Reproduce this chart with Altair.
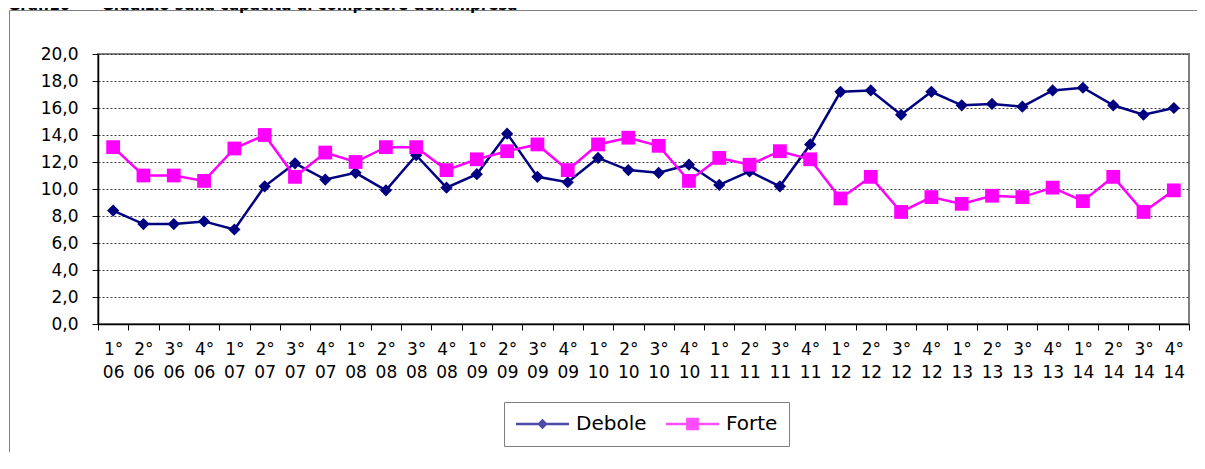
import altair as alt
import pandas as pd

categories = [
    "1° 06", "2° 06", "3° 06", "4° 06",
    "1° 07", "2° 07", "3° 07", "4° 07",
    "1° 08", "2° 08", "3° 08", "4° 08",
    "1° 09", "2° 09", "3° 09", "4° 09",
    "1° 10", "2° 10", "3° 10", "4° 10",
    "1° 11", "2° 11", "3° 11", "4° 11",
    "1° 12", "2° 12", "3° 12", "4° 12",
    "1° 13", "2° 13", "3° 13", "4° 13",
    "1° 14", "2° 14", "3° 14", "4° 14",
]
debole = [8.4, 7.4, 7.4, 7.6, 7.0, 10.2, 11.9, 10.7, 11.2, 9.9, 12.5, 10.1,
          11.1, 14.1, 10.9, 10.5, 12.3, 11.4, 11.2, 11.8, 10.3, 11.3, 10.2, 13.3,
          17.2, 17.3, 15.5, 17.2, 16.2, 16.3, 16.1, 17.3, 17.5, 16.2, 15.5, 16.0]
forte = [13.1, 11.0, 11.0, 10.6, 13.0, 14.0, 10.9, 12.7, 12.0, 13.1, 13.1, 11.4,
         12.2, 12.8, 13.3, 11.4, 13.3, 13.8, 13.2, 10.6, 12.3, 11.8, 12.8, 12.2,
         9.3, 10.9, 8.3, 9.4, 8.9, 9.5, 9.4, 10.1, 9.1, 10.9, 8.3, 9.9]
series = ["Debole", "Forte"]
series_colors = ["#000080", "#FF00FF"]
y_ticks = [0, 2, 4, 6, 8, 10, 12, 14, 16, 18, 20]
title_text = "Graf.10" + "\u00a0" * 6 + "Giudizio sulla capacità di competere dell'impresa"

# legend symbols: a thin bar (the line) with the marker in the middle, all filled
legend_paths = [
    "M-1,-0.045L1,-0.045L1,0.045L-1,0.045Z M0,-0.2L0.2,0L0,0.2L-0.2,0Z",
    "M-1,-0.045L1,-0.045L1,0.045L-1,0.045Z M-0.24,-0.24L0.24,-0.24L0.24,0.24L-0.24,0.24Z",
]

df = pd.DataFrame({
    "periodo": categories * 2,
    "serie": [series[0]] * len(debole) + [series[1]] * len(forte),
    "valore": debole + forte,
})

FONT = "DejaVu Sans"

x_enc = alt.X(
    "periodo:N", sort=categories,
    scale=alt.Scale(type="band", domain=categories, paddingInner=0, paddingOuter=0),
    axis=alt.Axis(title=None, labelAngle=0, labelExpr="split(datum.label, ' ')",
                  tickBand="extent", labelFont=FONT, labelFontSize=17,
                  labelColor="black", labelLineHeight=23, labelPadding=11,
                  labelBaseline="top", tickColor="black", tickSize=6,
                  domainColor="black", domainWidth=1.5, grid=False,
                  labelOverlap=False, labelFlush=False),
)
y_enc = alt.Y(
    "valore:Q",
    scale=alt.Scale(domain=[0, 20], nice=False),
    axis=alt.Axis(title=None, values=y_ticks,
                  labelExpr="replace(format(datum.value, '.1f'), '.', ',')",
                  grid=True, gridColor="#404040", gridDash=[2, 2], gridWidth=1,
                  tickColor="black", tickSize=6, domainColor="black", domainWidth=1.5,
                  labelFont=FONT, labelFontSize=17, labelColor="black", labelPadding=14),
)

one = pd.DataFrame({"t": [title_text]})

# outer frame of the figure: only its top and left sides fall inside the picture
frame_top = alt.Chart(one).mark_rule(color="#808080", strokeWidth=1).encode(
    x=alt.value(-88.5), x2=alt.value(1099), y=alt.value(-43.5)
)
frame_left = alt.Chart(one).mark_rule(color="#808080", strokeWidth=1).encode(
    x=alt.value(-88.5), y=alt.value(-43.5), y2=alt.value(398)
)
title = alt.Chart(one).mark_text(
    align="left", baseline="alphabetic", font=FONT, fontSize=15, fontWeight="bold", color="black"
).encode(text="t:N", x=alt.value(-90), y=alt.value(-44))

def series_layers(name, color, shape, size):
    base = alt.Chart(df).transform_filter(alt.datum.serie == name)
    line = base.mark_line(color=color, strokeWidth=2.5).encode(x=x_enc, y=y_enc)
    pts = base.mark_point(filled=True, shape=shape, size=size, color=color,
                          opacity=1, strokeWidth=0).encode(x=x_enc, y=y_enc)
    return [line, pts]

leg = dict(title=None, orient="none", legendX=406, legendY=348, direction="horizontal",
           labelFont=FONT, labelFontSize=20, labelColor="black", labelOffset=6,
           columnPadding=18, padding=11, strokeColor="#808080", fillColor="white",
           symbolSize=2809, clipHeight=22)

legend_layer = alt.Chart(df).mark_point(filled=True, size=0).encode(
    x=x_enc, y=y_enc,
    color=alt.Color("serie:N", scale=alt.Scale(domain=series, range=series_colors), legend=alt.Legend(**leg)),
    shape=alt.Shape("serie:N", scale=alt.Scale(domain=series, range=legend_paths), legend=alt.Legend(**leg)),
)

chart = alt.layer(
    frame_top, frame_left, title,
    *series_layers("Debole", series_colors[0], "diamond", 150),
    *series_layers("Forte", series_colors[1], "square", 190),
    legend_layer,
).properties(
    width=1091, height=270,
    autosize=alt.AutoSizeParams(type="none"),
    padding={"left": 90, "top": 46, "right": 8, "bottom": 128},
    background="white",
).configure_view(stroke="#808080", strokeWidth=2)

chart.save("out.html", embed_options={"renderer": "svg", "actions": False})
